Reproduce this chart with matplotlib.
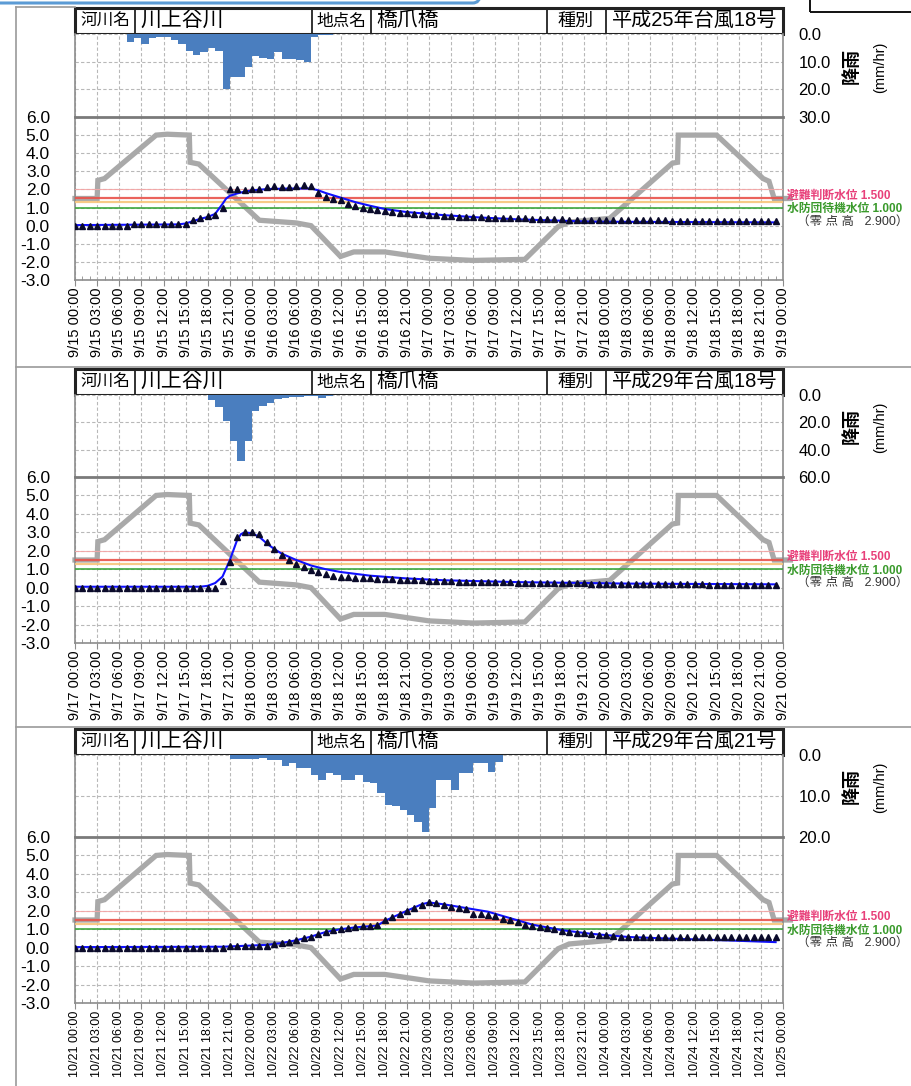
import numpy as np
import pandas as pd
import matplotlib.pyplot as plt
from matplotlib.patches import Rectangle, FancyBboxPatch
from matplotlib.lines import Line2D

plt.rcParams['font.family'] = ['Liberation Sans', 'Noto Sans CJK JP']

# ---- data ----
river_name = '川上谷川'
station_name = '橋爪橋'
event_names = ['平成25年台風18号', '平成29年台風18号', '平成29年台風21号']
start_dates = ['2013-09-15', '2017-09-17', '2017-10-21']
rain_max = [30, 60, 20]
rain_step = [10, 20, 10]
level_ticks = [-3, -2, -1, 0, 1, 2, 3, 4, 5, 6]

hours = np.arange(96)

# hourly rainfall (mm/hr)
rain_1 = [0] * 7 + [3.0, 1.5, 3.5, 1.5, 1.0, 1.0, 2.0, 3.5, 6.0, 7.5, 6.5, 5.0, 6.0, 20.0,
                    15.5, 15.5, 12.0, 8.0, 8.5, 9.0, 6.5, 9.0, 9.0, 9.5, 10.0, 1.0, 0.5, 0.5] + [0] * 61
rain_2 = [0] * 18 + [4, 8.5, 19, 34, 48, 34, 12, 8, 6, 3, 2, 1.5, 1.5, 1, 0.5, 2, 0.5] + [0] * 61
rain_3 = [0] * 21 + [1.0, 1.0, 1.0, 1.0, 0.8, 1.2, 1.2, 2.8, 2.0, 3.2, 3.2, 4.9, 6.1, 4.5, 4.9,
                     6.1, 6.1, 4.9, 6.5, 6.9, 9.3, 12.2, 12.5, 13.4, 14.6, 16.3, 18.7, 13.0,
                     6.1, 6.1, 8.5, 4.5, 4.5, 2.0, 2.0, 4.1, 1.6] + [0] * 38

# observed water level (triangles)
obs_1 = ([0.0] * 8 + [0.07] * 7 + [0.1, 0.3, 0.45, 0.53, 0.6, 0.95]
         + [2.0, 2.0, 1.95, 2.0, 2.05, 2.15, 2.2, 2.15, 2.15, 2.2, 2.25, 2.2]
         + [1.8, 1.6, 1.45, 1.4, 1.2, 1.1, 1.0, 0.9, 0.85, 0.8, 0.75, 0.72, 0.7, 0.66,
            0.63, 0.6, 0.57, 0.55, 0.53, 0.5, 0.5, 0.48, 0.47, 0.45, 0.44, 0.43, 0.42, 0.41]
         + [0.4, 0.39, 0.38, 0.37, 0.36, 0.35, 0.34, 0.33, 0.32, 0.31]
         + [0.3] * 10 + [0.28] * 15)
obs_2 = ([0.0] * 20
         + [0.35, 1.4, 2.75, 3.0, 3.0, 2.9, 2.45, 2.1, 1.75, 1.5, 1.3, 1.1, 0.97, 0.86, 0.75,
            0.65, 0.6, 0.57, 0.55, 0.52, 0.5, 0.48, 0.46, 0.45, 0.44, 0.42, 0.4, 0.4, 0.38,
            0.36, 0.35]
         + [0.34, 0.33, 0.32, 0.32, 0.31, 0.3, 0.3, 0.3, 0.29, 0.28]
         + [0.27, 0.26, 0.26, 0.25, 0.25, 0.24, 0.24, 0.23, 0.23, 0.22]
         + [0.22, 0.21, 0.21, 0.2, 0.2, 0.2, 0.19, 0.19, 0.19, 0.18]
         + [0.18] * 5 + [0.17] * 5 + [0.16, 0.16, 0.15, 0.15, 0.15])
obs_3 = ([0.0] * 21 + [0.1] * 6
         + [0.2, 0.25, 0.3, 0.4, 0.5, 0.6, 0.75, 0.85, 0.95, 1.0, 1.05, 1.1, 1.15, 1.2, 1.25,
            1.5, 1.65, 1.8, 2.0, 2.15, 2.3, 2.45, 2.4, 2.3, 2.2, 2.15, 2.1, 1.85, 1.8, 1.75,
            1.7, 1.55, 1.5, 1.4, 1.25, 1.2, 1.1, 1.05, 1.0, 0.9, 0.87, 0.82, 0.78, 0.72, 0.7,
            0.68, 0.65]
         + [0.6] * 22)

# computed water level (blue line)
calc_h1 = [0, 14, 15, 16, 17, 18, 19, 20, 20.5, 21, 22, 23, 24, 26, 29, 32, 33, 34, 36, 38, 40, 42, 45, 50, 55, 60, 70, 95]
calc_v1 = [0.03, 0.07, 0.12, 0.25, 0.38, 0.48, 0.65, 1.2, 1.5, 1.65, 1.78, 1.88, 1.95, 2.02, 2.05, 2.05, 1.95, 1.8, 1.55, 1.3, 1.1, 0.92, 0.75, 0.58, 0.45, 0.35, 0.22, 0.18]
calc_h2 = [0, 17, 18, 19, 20, 21, 22, 22.5, 23, 24, 25, 26, 27, 28, 30, 32, 34, 36, 40, 45, 50, 60, 75, 95]
calc_v2 = [0.05, 0.05, 0.1, 0.25, 0.6, 1.5, 2.6, 2.9, 3.0, 2.95, 2.75, 2.4, 2.1, 1.85, 1.5, 1.2, 1.0, 0.85, 0.65, 0.5, 0.4, 0.3, 0.22, 0.18]
calc_h3 = [0, 20, 26, 28, 30, 32, 34, 36, 38, 41, 42, 45, 47, 48, 50, 53, 56, 59, 62, 66, 70, 75, 80, 88, 95]
calc_v3 = [0.03, 0.05, 0.15, 0.25, 0.4, 0.6, 0.85, 1.0, 1.1, 1.2, 1.45, 2.0, 2.35, 2.45, 2.35, 2.15, 1.95, 1.6, 1.25, 0.95, 0.75, 0.58, 0.5, 0.4, 0.3]

# tide level (grey line), same in every panel
tide_h = [0, 3, 3.1, 4, 11, 12.5, 15.5, 15.6, 16.8, 25, 30, 32, 36, 37.8, 42, 48, 54, 61,
          65.5, 67, 72.5, 81, 81.7, 81.8, 87, 93.3, 94.1, 94.8, 97]
tide_v = [1.5, 1.5, 2.5, 2.6, 5.0, 5.05, 5.0, 3.5, 3.4, 0.3, 0.15, 0.0, -1.7, -1.45, -1.45,
          -1.8, -1.92, -1.86, -0.06, 0.2, 0.4, 3.45, 3.5, 5.0, 5.0, 2.6, 2.45, 1.5, 1.5]

# reference levels
ref_levels = [2.0, 1.5, 1.3, 1.0]
ref_colors = ['#f4a6a6', '#e8524a', '#f7c57a', '#3aa63a']
ref_widths = [0.8, 1.6, 1.6, 1.3]
ref_labels = ['避難判断水位 1.500', '水防団待機水位 1.000']
ref_label_y = [1.65, 0.92]
ref_label_colors = ['#e8407a', '#3a9a2c']
zero_height = '（零 点 高   2.900）'

rains = [rain_1, rain_2, rain_3]
obs = [obs_1, obs_2, obs_3]
calc = [(calc_h1, calc_v1), (calc_h2, calc_v2), (calc_h3, calc_v3)]

# ---- layout (pixels) ----
W, H = 911, 1086
X0, X1 = 75, 783
header_top = [8, 369, 729]
rain_bottom = [117, 477, 837]
level_bottom = [280, 643, 1003]
xlabel_size = [10.5, 10.5, 9.0]


def box(x0, y0, x1, y1):
    return [x0 / W, 1 - y1 / H, (x1 - x0) / W, (y1 - y0) / H]


def fig_line(fig, xs, ys, **kw):
    fig.add_artist(Line2D([x / W for x in xs], [1 - y / H for y in ys],
                          transform=fig.transFigure, **kw))


fig = plt.figure(figsize=(W / 100, H / 100), dpi=100)

grid_kw = dict(color='#b8b8b8', linestyle=(0, (3, 2)), linewidth=0.8)
spine_col = '#8c8c8c'

for i in range(3):
    top = header_top[i]
    hb = top + 26
    rb = rain_bottom[i]
    lb = level_bottom[i]

    # header box
    axh = fig.add_axes(box(X0, top, X1, hb))
    axh.set_xlim(0, X1 - X0)
    axh.set_ylim(0, 1)
    axh.axis('off')
    axh.add_patch(Rectangle((0, 0), X1 - X0, 1, fill=False, lw=2.2, ec='#222222', clip_on=False, zorder=5))
    for xd in [60, 237, 296, 472, 531]:
        axh.plot([xd, xd], [0, 1], color='#222222', lw=1.3)
    axh.text(30, 0.5, '河川名', ha='center', va='center', fontsize=12)
    axh.text(65, 0.52, river_name, ha='left', va='center', fontsize=15)
    axh.text(266, 0.5, '地点名', ha='center', va='center', fontsize=12)
    axh.text(301, 0.52, station_name, ha='left', va='center', fontsize=15)
    axh.text(501, 0.5, '種別', ha='center', va='center', fontsize=13)
    axh.text(537, 0.52, event_names[i], ha='left', va='center', fontsize=14.5)

    # rainfall
    axr = fig.add_axes(box(X0, hb, X1, rb))
    axr.bar(hours, rains[i], width=1, align='edge', color='#4a7ebf', zorder=3)
    axr.set_xlim(0, 96)
    axr.set_ylim(rain_max[i], 0)
    rticks = np.arange(0, rain_max[i] + 1, rain_step[i])
    axr.set_yticks(rticks)
    axr.set_yticklabels([f'{v:.1f}' for v in rticks])
    axr.yaxis.tick_right()
    axr.tick_params(axis='y', length=0, pad=11, labelsize=12)
    axr.set_xticks(np.arange(0, 97, 3))
    axr.tick_params(axis='x', length=0, labelbottom=False)
    axr.grid(True, **grid_kw)
    axr.set_axisbelow(True)
    for s in ['top', 'bottom']:
        axr.spines[s].set_visible(False)
    for s in ['left', 'right']:
        axr.spines[s].set_color(spine_col)
        axr.spines[s].set_linewidth(1.2)
    axr.text(1.097, 0.62, '降雨', transform=axr.transAxes, rotation=90,
             ha='center', va='center', fontsize=13, fontweight='bold')
    axr.text(1.137, 0.6, '(mm/hr)', transform=axr.transAxes, rotation=90,
             ha='center', va='center', fontsize=10.5)

    # water level
    axl = fig.add_axes(box(X0, rb, X1, lb))
    axl.set_xlim(0, 96)
    axl.set_ylim(-3, 6)
    axl.set_yticks(level_ticks)
    axl.set_yticklabels([f'{v:.1f}' for v in level_ticks])
    axl.tick_params(axis='y', length=0, pad=18, labelsize=12.5)

    times = pd.date_range(start_dates[i], periods=33, freq='3h')
    xlabels = [f'{t.month}/{t.day:02d} {t.hour:02d}:00' for t in times]
    axl.set_xticks(np.arange(0, 97, 3))
    axl.set_xticklabels(xlabels, rotation=90, fontsize=xlabel_size[i])
    axl.set_xticks(hours, minor=True)
    axl.tick_params(axis='x', which='major', direction='out', length=4, pad=1.5, color=spine_col)
    axl.tick_params(axis='x', which='minor', direction='in', length=3, color=spine_col)
    axl.grid(True, which='major', **grid_kw)
    axl.set_axisbelow(True)
    for s in ['left', 'right', 'bottom']:
        axl.spines[s].set_color(spine_col)
        axl.spines[s].set_linewidth(1.2)
    axl.spines['top'].set_color('#7a7a7a')
    axl.spines['top'].set_linewidth(2.0)

    axl.plot(tide_h, tide_v, color='#a9a9a9', lw=3.8, solid_joinstyle='miter',
             zorder=2, clip_on=False)
    for lv, c, lw in zip(ref_levels, ref_colors, ref_widths):
        axl.axhline(lv, color=c, lw=lw, alpha=0.9, zorder=3)
    axl.plot(calc[i][0], calc[i][1], color='#1010ff', lw=1.5, zorder=4)
    axl.plot(hours, obs[i], linestyle='none', marker='^', markersize=5,
             color='#0a0a2a', zorder=5)

    ytr = axl.get_yaxis_transform()
    for txt, yv, c in zip(ref_labels, ref_label_y, ref_label_colors):
        axl.text(1.006, yv, txt, transform=ytr, color=c, fontsize=8.5, fontweight='bold',
                 ha='left', va='center', clip_on=False)
    axl.text(1.02, 0.36, zero_height, transform=axl.transAxes, fontsize=9,
             color='#333333', ha='left', va='center')

    # screenshot frame of each panel
    if i > 0:
        fig_line(fig, [16, W], [top - 2, top - 2], color='#9a9a9a', lw=1.2)

# outer frame lines of the screenshot
fig_line(fig, [16, 16], [7, H], color='#9a9a9a', lw=1.2)
fig_line(fig, [16, 75], [7, 7], color='#9a9a9a', lw=1.2)
fig.add_artist(FancyBboxPatch((-20 / W, 1 - 3 / H), 500 / W, 40 / H,
                              boxstyle='round,pad=0,rounding_size=0.008',
                              transform=fig.transFigure, fill=False,
                              ec='#5b9bd5', lw=2.2, clip_on=False))
fig.add_artist(Rectangle((810 / W, 1 - 12 / H), 120 / W, 20 / H, transform=fig.transFigure,
                         fill=False, ec='#111111', lw=1.4))

fig.savefig('out.png', dpi=100)
